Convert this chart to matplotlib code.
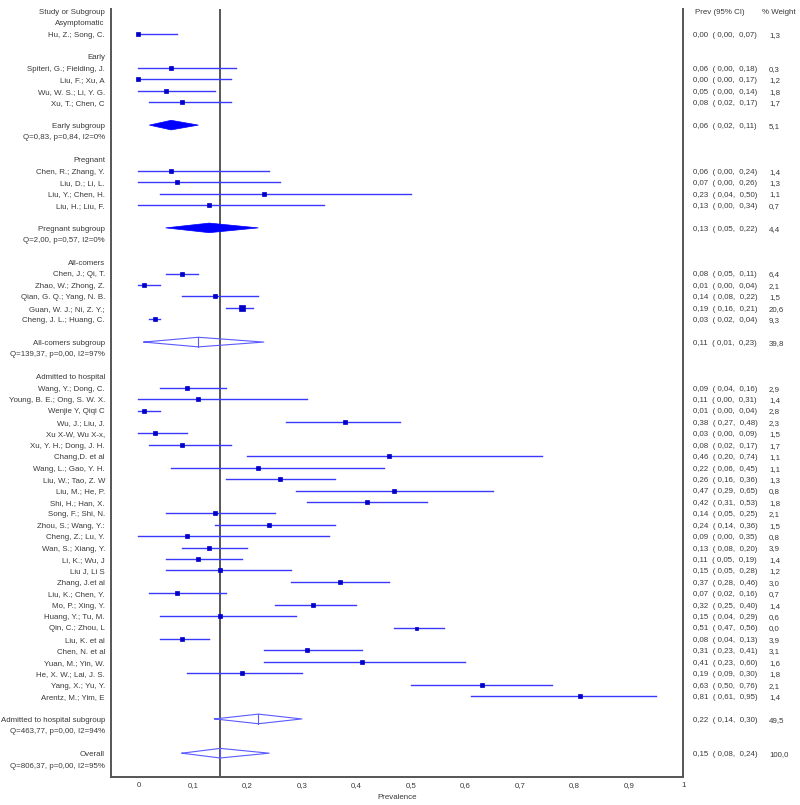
import matplotlib
matplotlib.use("Agg")
import matplotlib.pyplot as plt
import matplotlib.transforms as mtransforms

plt.rcParams['font.family'] = ['Liberation Sans', 'DejaVu Sans']

# Datos de cada subgrupo: nombre, prevalencia, IC 95%, peso
asym_names = ["Hu, Z.; Song, C."]
asym_prev = [0.00]
asym_lo = [0.00]
asym_hi = [0.07]
asym_w = [1.3]

early_names = ["Spiteri, G.; Fielding, J.", "Liu, F.; Xu, A", "Wu, W. S.; Li, Y. G.", "Xu, T.; Chen, C"]
early_prev = [0.06, 0.00, 0.05, 0.08]
early_lo = [0.00, 0.00, 0.00, 0.02]
early_hi = [0.18, 0.17, 0.14, 0.17]
early_w = [0.3, 1.2, 1.8, 1.7]

preg_names = ["Chen, R.; Zhang, Y.", "Liu, D.; Li, L.", "Liu, Y.; Chen, H.", "Liu, H.; Liu, F."]
preg_prev = [0.06, 0.07, 0.23, 0.13]
preg_lo = [0.00, 0.00, 0.04, 0.00]
preg_hi = [0.24, 0.26, 0.50, 0.34]
preg_w = [1.4, 1.3, 1.1, 0.7]

allc_names = ["Chen, J.; Qi, T.", "Zhao, W.; Zhong, Z.", "Qian, G. Q.; Yang, N. B.",
              "Guan, W. J.; Ni, Z. Y.;", "Cheng, J. L.; Huang, C."]
allc_prev = [0.08, 0.01, 0.14, 0.19, 0.03]
allc_lo = [0.05, 0.00, 0.08, 0.16, 0.02]
allc_hi = [0.11, 0.04, 0.22, 0.21, 0.04]
allc_w = [6.4, 2.1, 1.5, 20.6, 9.3]

hosp_names = ["Wang, Y.; Dong, C.", "Young, B. E.; Ong, S. W. X.", "Wenjie Y, Qiqi C",
              "Wu, J.; Liu, J.", "Xu X-W, Wu X-x,", "Xu, Y. H.; Dong, J. H.", "Chang,D. et al",
              "Wang, L.; Gao, Y. H.", "Liu, W.; Tao, Z. W", "Liu, M.; He, P.", "Shi, H.; Han, X.",
              "Song, F.; Shi, N.", "Zhou, S.; Wang, Y.:", "Cheng, Z.; Lu, Y.", "Wan, S.; Xiang, Y.",
              "Li, K.; Wu, J", "Liu J, Li S", "Zhang, J.et al", "Liu, K.; Chen, Y.",
              "Mo, P.; Xing, Y.", "Huang, Y.; Tu, M.", "Qin, C.; Zhou, L", "Liu, K. et al",
              "Chen, N. et al", "Yuan, M.; Yin, W.", "He, X. W.; Lai, J. S.", "Yang, X.; Yu, Y.",
              "Arentz, M.; Yim, E"]
hosp_prev = [0.09, 0.11, 0.01, 0.38, 0.03, 0.08, 0.46, 0.22, 0.26, 0.47, 0.42, 0.14, 0.24, 0.09,
             0.13, 0.11, 0.15, 0.37, 0.07, 0.32, 0.15, 0.51, 0.08, 0.31, 0.41, 0.19, 0.63, 0.81]
hosp_lo = [0.04, 0.00, 0.00, 0.27, 0.00, 0.02, 0.20, 0.06, 0.16, 0.29, 0.31, 0.05, 0.14, 0.00,
           0.08, 0.05, 0.05, 0.28, 0.02, 0.25, 0.04, 0.47, 0.04, 0.23, 0.23, 0.09, 0.50, 0.61]
hosp_hi = [0.16, 0.31, 0.04, 0.48, 0.09, 0.17, 0.74, 0.45, 0.36, 0.65, 0.53, 0.25, 0.36, 0.35,
           0.20, 0.19, 0.28, 0.46, 0.16, 0.40, 0.29, 0.56, 0.13, 0.41, 0.60, 0.30, 0.76, 0.95]
hosp_w = [2.9, 1.4, 2.8, 2.3, 1.5, 1.7, 1.1, 1.1, 1.3, 0.8, 1.8, 2.1, 1.5, 0.8, 3.9, 1.4, 1.2,
          3.0, 0.7, 1.4, 0.6, 0.0, 3.9, 3.1, 1.6, 1.8, 2.1, 1.4]

# Resumen por subgrupo: etiqueta, estimador, IC, peso, heterogeneidad, relleno
group_titles = ["Asymptomatic", "Early", "Pregnant", "All-comers", "Admitted to hospital"]
summary_labels = [None, "Early subgroup", "Pregnant subgroup", "All-comers subgroup",
                  "Admitted to hospital subgroup"]
summary_prev = [None, 0.06, 0.13, 0.11, 0.22]
summary_lo = [None, 0.02, 0.05, 0.01, 0.14]
summary_hi = [None, 0.11, 0.22, 0.23, 0.30]
summary_w = [None, 5.1, 4.4, 39.8, 49.5]
summary_q = [None, "Q=0,83, p=0,84, I2=0%", "Q=2,00, p=0,57, I2=0%",
             "Q=139,37, p=0,00, I2=97%", "Q=463,77, p=0,00, I2=94%"]
summary_filled = [None, True, True, False, False]

overall = (0.15, 0.08, 0.24, 100.0)
overall_q = "Q=806,37, p=0,00, I2=95%"

x_ticks = [0, 0.1, 0.2, 0.3, 0.4, 0.5, 0.6, 0.7, 0.8, 0.9, 1.0]
x_ticklabels = ["0", "0,1", "0,2", "0,3", "0,4", "0,5", "0,6", "0,7", "0,8", "0,9", "1"]

groups = [
    (asym_names, asym_prev, asym_lo, asym_hi, asym_w),
    (early_names, early_prev, early_lo, early_hi, early_w),
    (preg_names, preg_prev, preg_lo, preg_hi, preg_w),
    (allc_names, allc_prev, allc_lo, allc_hi, allc_w),
    (hosp_names, hosp_prev, hosp_lo, hosp_hi, hosp_w),
]

TXT = '#3a3a3a'
FS = 5.7
LINE_BLUE = '#3a3aff'
SQ_BLUE = '#0000c8'


def fmt(v):
    return f"{v:.2f}".replace('.', ',')


def ci_text(p, lo, hi):
    return f"{fmt(p)}  ( {fmt(lo)},  {fmt(hi)})"


fig = plt.figure(figsize=(8, 8.05), dpi=100)
ax = fig.add_axes([0.139, 0.035, 0.715, 0.954])

# x en fraccion de ejes, y en datos; baseline bajada para centrar el texto en la fila
base_tr = mtransforms.blended_transform_factory(ax.transAxes, ax.transData)
row_tr = base_tr + mtransforms.ScaledTranslation(0, -2.9 / 100, fig.dpi_scale_trans)


def put(x, y, s, ha):
    ax.text(x, y, s, transform=row_tr, ha=ha, va='baseline', fontsize=FS, color=TXT)


def label_left(y, s):
    put(-0.011, y, s, 'right')


def label_right(y, p, lo, hi, w):
    put(1.0175, y, ci_text(p, lo, hi), 'left')
    put(1.150, y, f"{w:.1f}".replace('.', ','), 'left')


def diamond(y, p, lo, hi, filled):
    h = 0.42
    xs = [lo, p, hi, p, lo]
    ys = [y, y - h, y, y + h, y]
    if filled:
        ax.fill(xs, ys, color='#0000ff', lw=0.5, zorder=3)
    else:
        ax.plot(xs, ys, color='#5a5aff', lw=0.8, zorder=3)
        ax.plot([p, p], [y - h, y + h], color='#5a5aff', lw=0.8, zorder=3)


# Cabeceras
label_left(0, "Study or Subgroup")
put(1.021, 0, "Prev (95% CI)", 'left')
put(1.138, 0, "% Weight", 'left')

row = 1
for g, (names, prev, lo, hi, w) in enumerate(groups):
    label_left(row, group_titles[g])
    row += 1
    for i in range(len(names)):
        label_left(row, names[i])
        ax.plot([lo[i], hi[i]], [row, row], color=LINE_BLUE, lw=1.0, zorder=2)
        side = 3.0 + 0.13 * w[i]
        ax.plot(prev[i], row, marker='s', ms=side * 0.72, color=SQ_BLUE, mec=SQ_BLUE,
                mew=0.5, zorder=4)
        label_right(row, prev[i], lo[i], hi[i], w[i])
        row += 1
    row += 1
    if summary_labels[g] is not None:
        label_left(row, summary_labels[g])
        diamond(row, summary_prev[g], summary_lo[g], summary_hi[g], summary_filled[g])
        label_right(row, summary_prev[g], summary_lo[g], summary_hi[g], summary_w[g])
        row += 1
        label_left(row, summary_q[g])
        row += 2

# Global
label_left(row, "Overall")
diamond(row, overall[0], overall[1], overall[2], False)
label_right(row, *overall)
label_left(row + 1, overall_q)

# Linea de referencia del estimador global
ax.axvline(overall[0], color='#4a4a4a', lw=1.3, zorder=1)

ax.set_xlim(-0.05, 1.0)
ax.set_ylim(67.07, -0.18)
ax.set_xticks(x_ticks)
ax.set_xticklabels(x_ticklabels, fontsize=FS, color=TXT)
ax.tick_params(axis='x', length=0, pad=4)
ax.set_yticks([])
ax.spines['top'].set_visible(False)
for s in ['left', 'right', 'bottom']:
    ax.spines[s].set_color('#555555')
    ax.spines[s].set_linewidth(1.4)
ax.set_xlabel("Prevalence", fontsize=FS, color=TXT, labelpad=3)

fig.savefig("out.png", dpi=100)
